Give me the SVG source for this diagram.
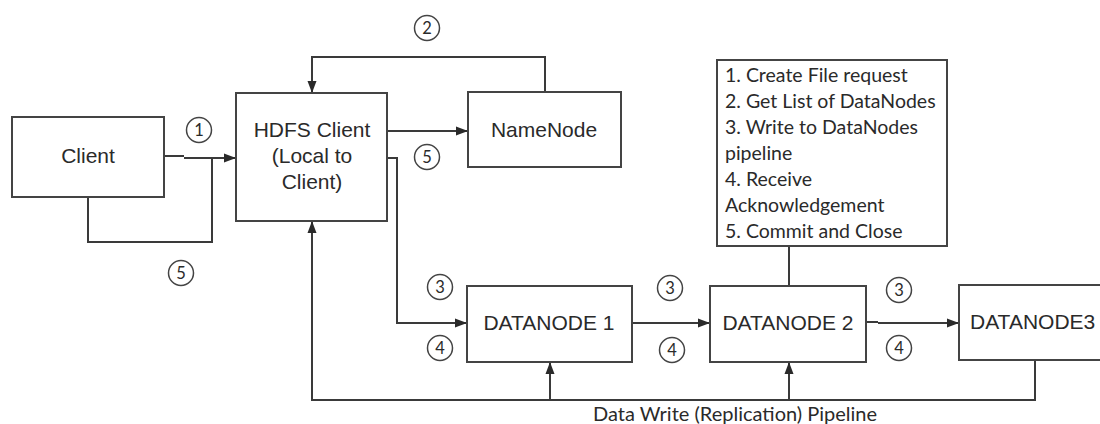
<svg xmlns="http://www.w3.org/2000/svg" width="1100" height="424" viewBox="0 0 1100 424">
  <style>
    .box { fill: #ffffff; stroke: #444444; stroke-width: 2; }
    .wire { fill: none; stroke: #3a3a3a; stroke-width: 2; }
    .lbl { font-family: "Liberation Sans", Arial, sans-serif; font-size: 21px; fill: #2a2a2a; text-anchor: middle; }
    .note { font-family: Lato, "Noto Sans", sans-serif; font-size: 19.5px; fill: #2a2a2a; }
    .caption { font-family: Lato, "Noto Sans", sans-serif; font-size: 20px; fill: #2a2a2a; text-anchor: middle; }
    .step circle { fill: #ffffff; stroke: #444444; stroke-width: 1.5; }
    .step text { font-family: Lato, "Noto Sans", sans-serif; font-size: 16.5px; fill: #2a2a2a; text-anchor: middle; }
  </style>
  <defs>
    <marker id="arrow" markerUnits="userSpaceOnUse" markerWidth="13" markerHeight="10" refX="12" refY="5" orient="auto">
      <path d="M0,0.5 L12,5 L0,9.5 z" fill="#2a2a2a"/>
    </marker>
  </defs>

  <rect width="1100" height="424" fill="#ffffff"/>

  <!-- connectors -->
  <g id="connectors">
    <!-- Client to HDFS Client (1) -->
    <path class="wire" d="M164,156 H184"/>
    <path class="wire" d="M184,158 H236" marker-end="url(#arrow)"/>
    <!-- return loop to Client (5) -->
    <path class="wire" d="M212,158 V242 H88 V197"/>
    <!-- NameNode back to HDFS Client (2) -->
    <path class="wire" d="M545,92 V57 H312 V93" marker-end="url(#arrow)"/>
    <!-- HDFS Client to NameNode (5) -->
    <path class="wire" d="M387,131 H468" marker-end="url(#arrow)"/>
    <!-- HDFS Client to DataNode 1 -->
    <path class="wire" d="M387,158 H397 V323 H467" marker-end="url(#arrow)"/>
    <!-- DataNode 1 to DataNode 2 -->
    <path class="wire" d="M632,323 H710" marker-end="url(#arrow)"/>
    <!-- DataNode 2 to DataNode 3 -->
    <path class="wire" d="M866,322 H878"/>
    <path class="wire" d="M878,323 H959" marker-end="url(#arrow)"/>
    <!-- notes attached to DataNode 2 -->
    <path class="wire" d="M789,246 V286"/>
    <!-- replication pipeline back to HDFS Client -->
    <path class="wire" d="M1035,360 V400 H312 V221" marker-end="url(#arrow)"/>
    <path class="wire" d="M550,400 V362" marker-end="url(#arrow)"/>
    <path class="wire" d="M789,400 V362" marker-end="url(#arrow)"/>
  </g>

  <!-- nodes -->
  <g id="client">
    <rect class="box" x="12" y="117" width="152" height="80"/>
    <text class="lbl" x="88" y="163">Client</text>
  </g>

  <g id="hdfs-client">
    <rect class="box" x="236" y="93" width="151" height="128"/>
    <text class="lbl" x="312" y="137">HDFS Client</text>
    <text class="lbl" x="312" y="163">(Local to</text>
    <text class="lbl" x="312" y="189">Client)</text>
  </g>

  <g id="namenode">
    <rect class="box" x="468" y="92" width="153" height="75"/>
    <text class="lbl" x="544" y="137">NameNode</text>
  </g>

  <g id="steps-note">
    <rect class="box" x="717" y="60" width="230" height="186"/>
    <text class="note" x="725" y="82">1. Create File request</text>
    <text class="note" x="725" y="108">2. Get List of DataNodes</text>
    <text class="note" x="725" y="134">3. Write to DataNodes</text>
    <text class="note" x="725" y="160">pipeline</text>
    <text class="note" x="725" y="186">4. Receive</text>
    <text class="note" x="725" y="212">Acknowledgement</text>
    <text class="note" x="725" y="238">5. Commit and Close</text>
  </g>

  <g id="datanode1">
    <rect class="box" x="467" y="286" width="165" height="76"/>
    <text class="lbl" x="549" y="330">DATANODE 1</text>
  </g>

  <g id="datanode2">
    <rect class="box" x="710" y="286" width="156" height="76"/>
    <text class="lbl" x="788" y="330">DATANODE 2</text>
  </g>

  <g id="datanode3">
    <rect class="box" x="959" y="285" width="160" height="75"/>
    <text class="lbl" x="970" y="329" style="text-anchor:start">DATANODE3</text>
  </g>

  <!-- pipeline caption -->
  <text class="caption" x="735" y="421">Data Write (Replication) Pipeline</text>

  <!-- step numbers -->
  <g id="step-markers">
    <g class="step"><circle cx="199" cy="130" r="12.5"/><text x="199" y="136">1</text></g>
    <g class="step"><circle cx="427" cy="28" r="12.5"/><text x="427" y="34">2</text></g>
    <g class="step"><circle cx="427" cy="157" r="12.5"/><text x="427" y="163">5</text></g>
    <g class="step"><circle cx="181" cy="273" r="12.5"/><text x="181" y="279">5</text></g>
    <g class="step"><circle cx="440" cy="287" r="12.5"/><text x="440" y="293">3</text></g>
    <g class="step"><circle cx="440" cy="348" r="12.5"/><text x="440" y="354">4</text></g>
    <g class="step"><circle cx="670" cy="288" r="12.5"/><text x="670" y="294">3</text></g>
    <g class="step"><circle cx="672" cy="350" r="12.5"/><text x="672" y="356">4</text></g>
    <g class="step"><circle cx="899" cy="290" r="12.5"/><text x="899" y="296">3</text></g>
    <g class="step"><circle cx="899" cy="348" r="12.5"/><text x="899" y="354">4</text></g>
  </g>
</svg>
